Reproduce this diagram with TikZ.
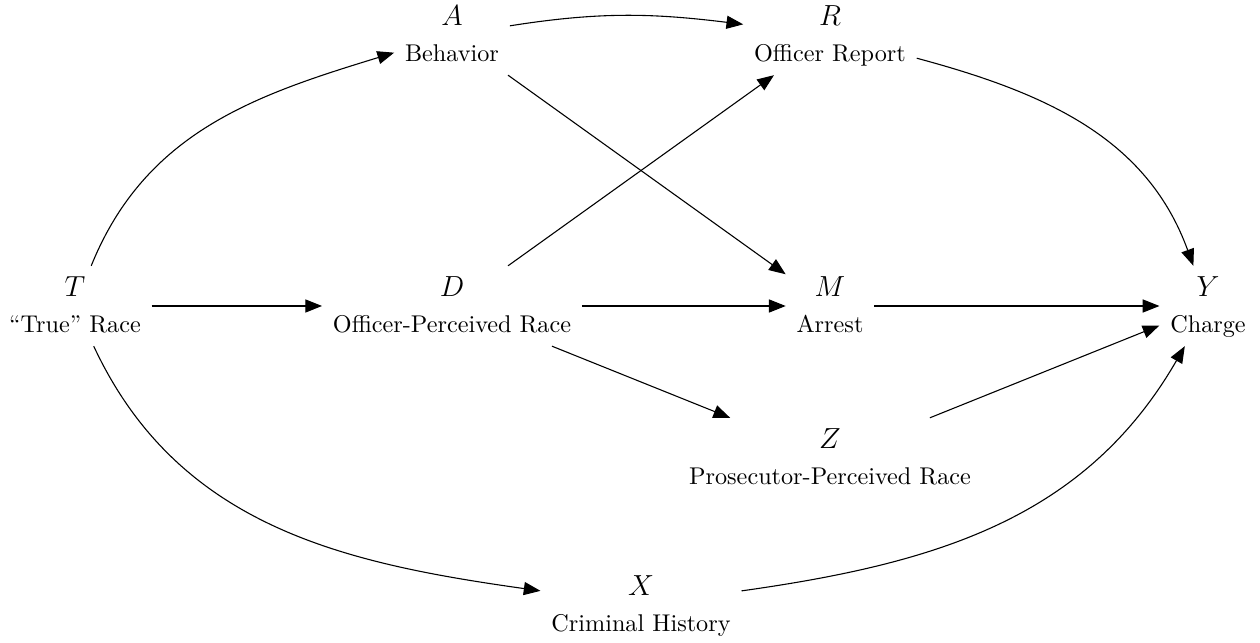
\documentclass[tikz,border=0pt]{standalone}
\usetikzlibrary{arrows.meta}
\newcommand{\vlab}[2]{{\large $#1$}\\[3pt]#2}
\begin{document}
\begin{tikzpicture}[x=0.413pt,y=-0.413pt,
  var/.style={align=center, inner sep=4.5pt, outer sep=0pt, text depth=1pt},
  arr/.style={-{Triangle[length=6.9pt,width=5.4pt]}, line width=0.45pt}]
\useasboundingbox (0,0) rectangle (1260,643);
\node[var] (T) at (75,306)  {\vlab{T}{``True'' Race}};
\node[var] (A) at (452,35)  {\vlab{A}{Behavior}};
\node[var] (R) at (830,35)  {\vlab{R}{Officer Report}};
\node[var] (D) at (452,306) {\vlab{D}{Officer-Perceived Race}};
\node[var] (M) at (830,306) {\vlab{M}{Arrest}};
\node[var] (Y) at (1208,306) {\vlab{Y}{Charge}};
\node[var] (Z) at (830,458) {\vlab{Z}{Prosecutor-Perceived Race}};
\node[var] (X) at (641,605) {\vlab{X}{Criminal History}};
\draw[arr] (T) to[out=68,in=197] (A);
\draw[arr] (A) to[out=9,in=173] (R);
\draw[arr] (R) to[out=-15,in=110] (Y);
\draw[arr] (T) -- (D);
\draw[arr] (D) -- (M);
\draw[arr] (M) -- (Y);
\draw[arr] (A) -- (M);
\draw[arr] (D) -- (R);
\draw[arr] (D) -- (Z);
\draw[arr] (Z) -- (Y);
\draw[arr] (T) to[out=-65,in=172] (X);
\draw[arr] (X) to[out=8,in=240] (Y);
\end{tikzpicture}
\end{document}
